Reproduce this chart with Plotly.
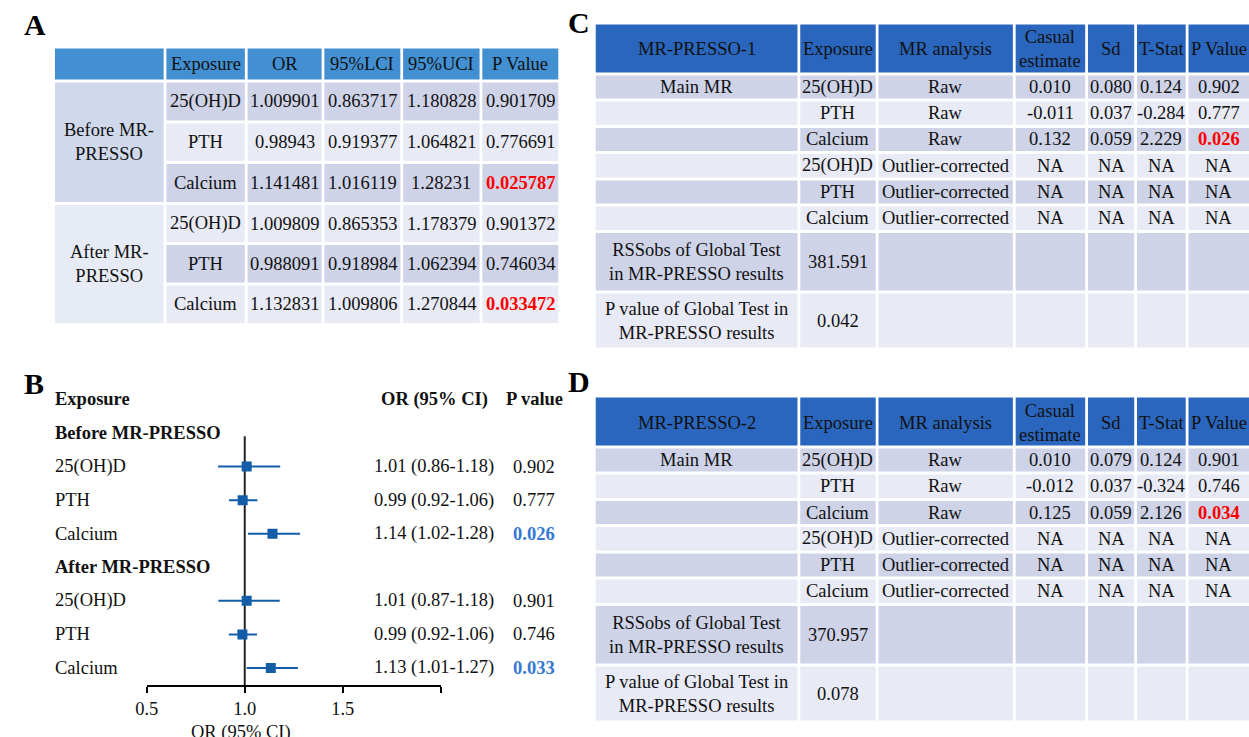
import plotly.graph_objects as go

W, H = 1249, 737
SERIF = "Liberation Serif"
INK = "#111111"
FS = 18.5

# ---------------- data: MR estimates before / after MR-PRESSO ----------------
exposures = ["25(OH)D", "PTH", "Calcium"]
group_labels = ["Before MR-PRESSO", "After MR-PRESSO"]
group_cell_labels = ["Before MR-<br>PRESSO", "After MR-<br>PRESSO"]

or_before = [1.009901, 0.98943, 1.141481]
lci_before = [0.863717, 0.919377, 1.016119]
uci_before = [1.180828, 1.064821, 1.28231]
p_before = [0.901709, 0.776691, 0.025787]

or_after = [1.009809, 0.988091, 1.132831]
lci_after = [0.865353, 0.918984, 1.009806]
uci_after = [1.178379, 1.062394, 1.270844]
p_after = [0.901372, 0.746034, 0.033472]

table_a_header = ["", "Exposure", "OR", "95%LCI", "95%UCI", "P Value"]

# ---------------- data: MR-PRESSO result tables ----------------
presso_header = ["Exposure", "MR analysis", "Casual<br>estimate", "Sd", "T-Stat", "P Value"]
presso_exposure = ["25(OH)D", "PTH", "Calcium", "25(OH)D", "PTH", "Calcium"]
presso_analysis = ["Raw", "Raw", "Raw", "Outlier-corrected", "Outlier-corrected", "Outlier-corrected"]

presso1_est = [0.010, -0.011, 0.132, None, None, None]
presso1_sd = [0.080, 0.037, 0.059, None, None, None]
presso1_t = [0.124, -0.284, 2.229, None, None, None]
presso1_p = [0.902, 0.777, 0.026, None, None, None]
presso1_rss = 381.591
presso1_global_p = 0.042

presso2_est = [0.010, -0.012, 0.125, None, None, None]
presso2_sd = [0.079, 0.037, 0.059, None, None, None]
presso2_t = [0.124, -0.324, 2.126, None, None, None]
presso2_p = [0.901, 0.746, 0.034, None, None, None]
presso2_rss = 370.957
presso2_global_p = 0.078

global_labels = ["RSSobs of Global Test<br>in MR-PRESSO results",
                 "P value of Global Test in<br>MR-PRESSO results"]

ALPHA = 0.05

# ---------------- colours ----------------
HEAD_A = "#4290D2"
HEAD_CD = "#2A66BD"
ROW_DARK = "#CED3E8"
ROW_LIGHT = "#E8EAF5"
GROUP_FILL = ["#CFD9EB", "#E7EBF5"]
RED = "#FF0000"
BLUE_TXT = "#3478D4"
MARK = "#125CA8"

shapes = []
annotations = []


def px(x):
    return x / W


def py(y):
    return 1 - y / H


def cell(x0, x1, y0, y1, fill, gap=1.4):
    shapes.append(dict(type="rect", xref="paper", yref="paper",
                       x0=px(x0 + gap), x1=px(x1 - gap),
                       y0=py(y1 - gap), y1=py(y0 + gap),
                       fillcolor=fill, line=dict(width=0), layer="below"))


def label(x, y, s, size=FS, color=INK, bold=False, xanchor="center"):
    if bold:
        s = "<b>" + s + "</b>"
    annotations.append(dict(xref="paper", yref="paper", x=px(x), y=py(y),
                            text=s, showarrow=False, xanchor=xanchor, yanchor="middle",
                            font=dict(family=SERIF, size=size, color=color)))


def fmt3(v):
    return "NA" if v is None else f"{v:.3f}"


# ---------------- panel A: table ----------------
A_COLS = [42, 154.5, 236.5, 314, 393.5, 473.5, 553]
A_ROWS = [47, 81, 122, 162.5, 203.5, 243.5, 284, 324.5]

for j, h in enumerate(table_a_header):
    cell(A_COLS[j], A_COLS[j + 1], A_ROWS[0], A_ROWS[1], HEAD_A)
    if h:
        label((A_COLS[j] + A_COLS[j + 1]) / 2, (A_ROWS[0] + A_ROWS[1]) / 2, h)

blocks = [(or_before, lci_before, uci_before, p_before),
          (or_after, lci_after, uci_after, p_after)]
for g, (ors, lcis, ucis, ps) in enumerate(blocks):
    top, bot = A_ROWS[1 + 3 * g], A_ROWS[4 + 3 * g]
    cell(A_COLS[0], A_COLS[1], top, bot, GROUP_FILL[g])
    label((A_COLS[0] + A_COLS[1]) / 2, (top + bot) / 2, group_cell_labels[g])
    for i in range(3):
        r = 1 + 3 * g + i
        fill = ROW_DARK if (r - 1) % 2 == 0 else ROW_LIGHT
        vals = [exposures[i], str(ors[i]), str(lcis[i]), str(ucis[i]), str(ps[i])]
        yc = (A_ROWS[r] + A_ROWS[r + 1]) / 2
        for k, v in enumerate(vals):
            j = k + 1
            cell(A_COLS[j], A_COLS[j + 1], A_ROWS[r], A_ROWS[r + 1], fill)
            sig = (k == 4 and ps[i] < ALPHA)
            label((A_COLS[j] + A_COLS[j + 1]) / 2, yc, v,
                  color=RED if sig else INK, bold=sig)


# ---------------- panels C and D: MR-PRESSO tables ----------------
C_COLS = [588, 794.5, 873.5, 1012, 1085, 1134.5, 1186.5, 1250]
C_ROWS = [23, 74, 100, 126.5, 152.5, 179, 205, 231.5, 292, 349]


def presso_table(offset, title, est, sd, tstat, pval, rss, gp):
    rows = [r + offset for r in C_ROWS]
    heads = [title] + presso_header
    for j, h in enumerate(heads):
        cell(C_COLS[j], C_COLS[j + 1] + (3 if j == 6 else 0), rows[0], rows[1], HEAD_CD)
        label((C_COLS[j] + C_COLS[j + 1]) / 2, (rows[0] + rows[1]) / 2 + 1, h)
    body = []
    for i in range(6):
        first = "Main MR" if i == 0 else ""
        body.append([first, presso_exposure[i], presso_analysis[i],
                     fmt3(est[i]), fmt3(sd[i]), fmt3(tstat[i]), fmt3(pval[i])])
    body.append([global_labels[0], f"{rss:.3f}", "", "", "", "", ""])
    body.append([global_labels[1], f"{gp:.3f}", "", "", "", "", ""])
    for r, vals in enumerate(body):
        fill = ROW_DARK if r % 2 == 0 else ROW_LIGHT
        y0, y1 = rows[r + 1], rows[r + 2]
        for j, v in enumerate(vals):
            cell(C_COLS[j], C_COLS[j + 1] + (3 if j == 6 else 0), y0, y1, fill)
            if v:
                sig = (j == 6 and r < 6 and pval[r] is not None and pval[r] < ALPHA)
                label((C_COLS[j] + C_COLS[j + 1]) / 2, (y0 + y1) / 2, v,
                      color=RED if sig else INK, bold=sig)


presso_table(0, "MR-PRESSO-1", presso1_est, presso1_sd, presso1_t, presso1_p,
             presso1_rss, presso1_global_p)
presso_table(373, "MR-PRESSO-2", presso2_est, presso2_sd, presso2_t, presso2_p,
             presso2_rss, presso2_global_p)


# ---------------- panel B: forest plot ----------------
ROW_PITCH = 33.57
ROW0_Y = 433.0          # pixel row of "Before MR-PRESSO"
AXIS_Y = 685.0
Y_TOP = -1.5
Y_BOTTOM = (AXIS_Y - ROW0_Y) / ROW_PITCH
dom_top = ROW0_Y + Y_TOP * ROW_PITCH

fig = go.Figure()

pos, ors, lcis, ucis, ps = [], [], [], [], []
for g, (o, l, u, p) in enumerate(blocks):
    for i in range(3):
        pos.append(4 * g + 1 + i)
        ors.append(o[i]); lcis.append(l[i]); ucis.append(u[i]); ps.append(p[i])

fig.add_trace(go.Scatter(
    x=ors, y=pos, mode="markers",
    marker=dict(symbol="square", size=10, color=MARK),
    error_x=dict(type="data", symmetric=False,
                 array=[u - o for u, o in zip(ucis, ors)],
                 arrayminus=[o - l for o, l in zip(ors, lcis)],
                 color=MARK, thickness=2, width=0),
    showlegend=False, hoverinfo="skip"))

shapes.append(dict(type="line", xref="x", yref="y", x0=1, x1=1, y0=0.1, y1=Y_BOTTOM,
                   line=dict(color="#222222", width=2), layer="below"))


def row_y(i):
    return ROW0_Y + i * ROW_PITCH


label(41, row_y(-1), "Exposure", bold=True, xanchor="left")
label(427, row_y(-1), "OR (95% CI)", bold=True)
label(528, row_y(-1), "P value", bold=True)
for g in range(2):
    label(41, row_y(4 * g), group_labels[g], bold=True, xanchor="left")
for k, yrow in enumerate(pos):
    i = k % 3
    label(41, row_y(yrow), exposures[i], xanchor="left")
    label(426, row_y(yrow), f"{ors[k]:.2f} ({lcis[k]:.2f}-{ucis[k]:.2f})")
    sig = ps[k] < ALPHA
    label(527, row_y(yrow), f"{ps[k]:.3f}", color=BLUE_TXT if sig else INK, bold=sig)

label(231, 732, "OR (95% CI)")

# panel letters
for ch, x, y in [("A", 23, 25), ("B", 22, 383), ("C", 572, 23), ("D", 572, 381)]:
    label(x, y, ch, size=30, color="#000000", bold=True)

fig.update_layout(
    width=W, height=H, autosize=False,
    margin=dict(l=0, r=0, t=0, b=0),
    paper_bgcolor="white", plot_bgcolor="rgba(0,0,0,0)",
    shapes=shapes, annotations=annotations,
    xaxis=dict(domain=[136 / W, 433 / W], range=[0.5, 2.0],
               showline=True, linecolor="#000000", linewidth=2,
               ticks="outside", ticklen=6, tickwidth=2, tickcolor="#000000",
               tickvals=[0.5, 1.0, 1.5, 2.0], ticktext=["0.5", "1.0", "1.5", ""],
               tickfont=dict(family=SERIF, size=FS, color=INK),
               showgrid=False, zeroline=False, fixedrange=True),
    yaxis=dict(domain=[py(AXIS_Y), py(dom_top)], range=[Y_BOTTOM, Y_TOP],
               visible=False, showgrid=False, zeroline=False, fixedrange=True),
)

fig.write_html("out.html")
